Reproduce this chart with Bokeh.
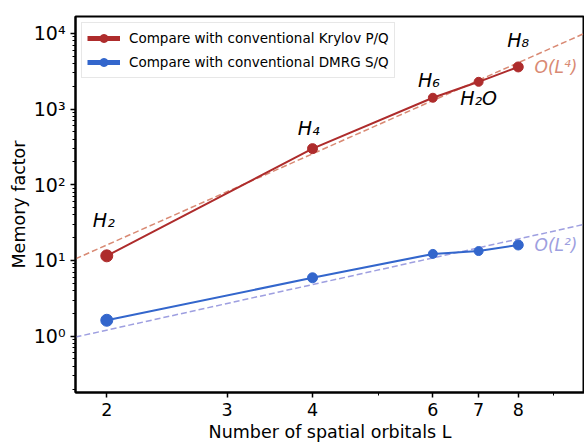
import numpy as np
from bokeh.plotting import figure
from bokeh.models import FixedTicker, BasicTickFormatter, Legend, LegendItem, ColumnDataSource
from bokeh.core.properties import value
from bokeh.embed import file_html
from bokeh.resources import INLINE

# data
orbitals = [2, 4, 6, 7, 8]
krylov = [11.5, 300, 1410, 2290, 3600]
dmrg = [1.62, 5.9, 12.2, 13.3, 16.0]
mol_labels = ["H₂", "H₄", "H₆", "H₂O", "H₈"]
mol_label_x = [1.98, 3.95, 5.92, 7.0, 8.0]
mol_label_y = [34, 570, 2430, 1420, 8100]
fit_L = [1.8, 10.0]
fit_L4 = [L ** 4 for L in fit_L]
fit_L2 = [0.3 * L ** 2 for L in fit_L]
order_labels = ["O(L⁴)", "O(L²)"]
order_label_x = [8.45, 8.45]
order_label_y = [3600, 16.0]
x_ticks = [2, 3, 4, 6, 7, 8]
x_minor = [5, 9]
y_ticks = [1, 10, 100, 1000, 10000]
y_tick_labels = ["10⁰", "10¹", "10²", "10³", "10⁴"]

RED = "#ae2c2c"
BLUE = "#3366cc"
RED_FIT = "#d98a74"
BLUE_FIT = "#9e9fe0"
FONT = "DejaVu Sans"

p = figure(width=584, height=444, x_axis_type="log", y_axis_type="log",
           x_range=(1.8, 10.0), y_range=(0.18, 16700),
           output_backend="svg", toolbar_location=None,
           min_border_left=75, min_border_right=0, min_border_top=16, min_border_bottom=48)
p.grid.visible = False
p.outline_line_color = "black"
p.outline_line_width = 2
p.background_fill_color = "white"
p.border_fill_color = "white"

# axes
for ax in (p.xaxis[0], p.yaxis[0]):
    ax.axis_line_width = 2
    ax.major_tick_line_width = 1.5
    ax.minor_tick_line_width = 1
    ax.major_tick_out = 5
    ax.major_tick_in = 0
    ax.minor_tick_out = 3
    ax.minor_tick_in = 0
    ax.major_label_text_font = FONT
    ax.major_label_text_color = "black"
    ax.axis_label_text_font = FONT
    ax.axis_label_text_font_size = "17.5px"
    ax.axis_label_text_font_style = "normal"
    ax.axis_label_text_color = "black"

p.xaxis.ticker = FixedTicker(ticks=x_ticks, minor_ticks=x_minor)
p.xaxis.formatter = BasicTickFormatter()
p.xaxis.major_label_text_font_size = "17.5px"
p.xaxis.axis_label = "Number of spatial orbitals L"
p.xaxis.axis_label_standoff = 3

minor_y = [k * 10.0 ** e for e in range(-1, 5) for k in range(2, 10)]
p.yaxis.ticker = FixedTicker(ticks=y_ticks, minor_ticks=minor_y)
p.yaxis.major_label_overrides = {t: l for t, l in zip(y_ticks, y_tick_labels)}
p.yaxis.major_label_text_font_size = "19px"
p.yaxis.axis_label = "Memory factor"
p.yaxis.axis_label_standoff = 2

# fits
p.line(fit_L, fit_L4, line_color=RED_FIT, line_width=1.5, line_dash="6 3")
p.line(fit_L, fit_L2, line_color=BLUE_FIT, line_width=1.5, line_dash="6 3")

# data
sizes = [12, 10, 9, 9, 10]
p.line(orbitals, krylov, line_color=RED, line_width=2)
p.scatter(orbitals, krylov, size=sizes, color=RED)
p.line(orbitals, dmrg, line_color=BLUE, line_width=2)
p.scatter(orbitals, dmrg, size=sizes, color=BLUE)

# legend proxies (thick lines)
lr = p.line([np.nan], [np.nan], line_color=RED, line_width=5)
lrs = p.scatter([np.nan], [np.nan], size=10, color=RED)
lb = p.line([np.nan], [np.nan], line_color=BLUE, line_width=5)
lbs = p.scatter([np.nan], [np.nan], size=10, color=BLUE)

legend = Legend(items=[
    LegendItem(label="Compare with conventional Krylov P/Q", renderers=[lr, lrs]),
    LegendItem(label="Compare with conventional DMRG S/Q", renderers=[lb, lbs]),
], location="top_left")
legend.label_text_font = FONT
legend.label_text_font_size = "13.5px"
legend.label_text_color = "black"
legend.glyph_width = 33
legend.glyph_height = 20
legend.label_height = 20
legend.spacing = 4
legend.padding = 5
legend.margin = 6
legend.label_standoff = 9
legend.border_line_color = "#d0d0d0"
legend.border_line_width = 1
legend.background_fill_alpha = 0.85
p.add_layout(legend)

# annotations
src = ColumnDataSource(dict(x=mol_label_x, y=mol_label_y, t=mol_labels))
p.text(x="x", y="y", text="t", source=src, text_font=value(FONT), text_font_size="19px",
       text_font_style="italic", text_align="center", text_baseline="middle", text_color="black")
osrc = ColumnDataSource(dict(x=order_label_x, y=order_label_y, t=order_labels,
                             c=[RED_FIT, BLUE_FIT]))
p.text(x="x", y="y", text="t", source=osrc, text_font=value(FONT), text_font_size="17px",
       text_font_style="italic", text_align="left", text_baseline="middle", text_color="c")

open("out.html", "w").write(file_html(p, INLINE))
